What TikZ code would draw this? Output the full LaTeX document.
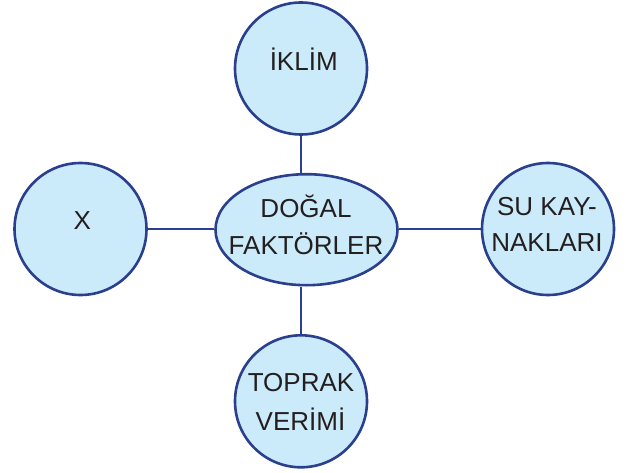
\documentclass[tikz,border=0pt]{standalone}
\usepackage{fontspec}
\setmainfont{Liberation Sans}
\usetikzlibrary{shapes.geometric}
\definecolor{bord}{HTML}{2A3F8E}
\definecolor{fillb}{HTML}{CCEBFA}
\definecolor{txt}{HTML}{231F20}
\tikzset{
  bubble/.style={circle, draw=bord, fill=fillb, line width=2.6pt, minimum size=132pt, inner sep=0pt},
  hub/.style={ellipse, draw=bord, fill=fillb, line width=2.6pt, minimum width=182pt, minimum height=111pt, inner sep=0pt},
  conn/.style={draw=bord, line width=2.1pt},
  lbl/.style={anchor=base, text=txt, font=\fontsize{26}{37}\selectfont, inner sep=0pt}
}
\begin{document}
\begin{tikzpicture}[x=1pt, y=-1pt]
\useasboundingbox (0,0) rectangle (628,473);
\node[hub] (ell) at (306.5,229.7) {};
\node[bubble] (top) at (301,68.5) {};
\node[bubble] (lft) at (80.5,229) {};
\node[bubble] (rgt) at (548,229) {};
\node[bubble] (bot) at (301,401.3) {};
\draw[conn] (top.south) -- (top.south |- ell.north);
\draw[conn] (bot.north) -- (bot.north |- ell.south);
\draw[conn] (lft.east) -- (lft.east -| ell.west);
\draw[conn] (rgt.west) -- (rgt.west -| ell.east);
\node[lbl] (t1) at (303.7,70.7) {İKLİM};
\node[lbl] (t2) at (82.3,229.3) {X};
\node[lbl] (t3) at (306,217.3) {DOĞAL};
\node[lbl] (t4) at (306,254.3) {FAKTÖRLER};
\node[lbl] (t5) at (547,215) {SU KAY-};
\node[lbl] (t6) at (547,251.7) {NAKLARI};
\node[lbl] (t7) at (301,391.7) {TOPRAK};
\node[lbl] (t8) at (300.5,430) {VERİMİ};
\end{tikzpicture}
\end{document}
